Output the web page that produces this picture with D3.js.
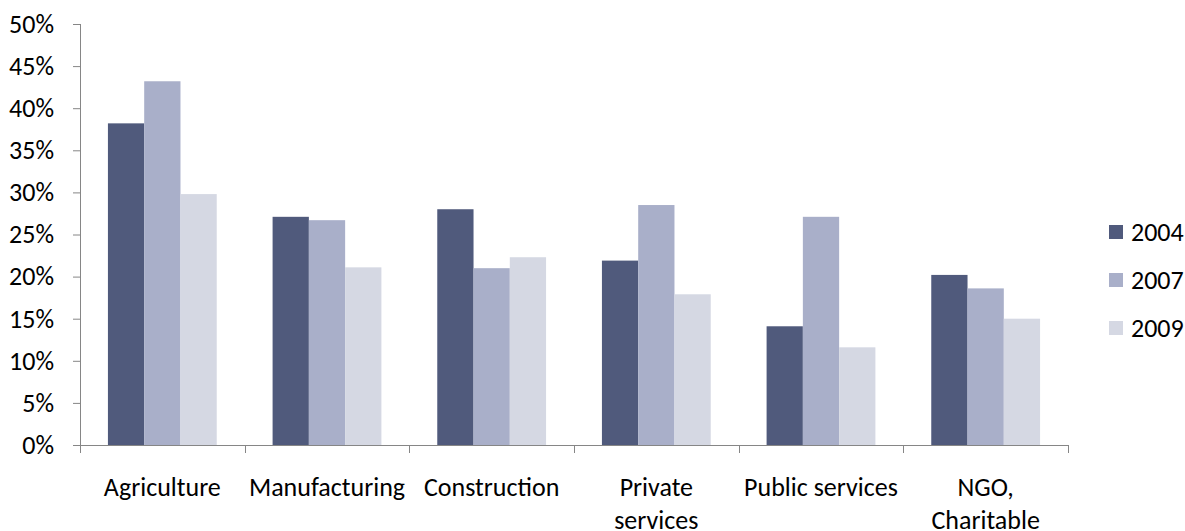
<!DOCTYPE html>
<html lang="en">
<head>
    <meta charset="UTF-8">
    <title>Employment by sector</title>
    <style>
        body { margin: 0; background: #fff; }
        svg text { font-family: Carlito, Lato, "Liberation Sans", sans-serif; fill: #000; }
    </style>
</head>
<body>
<script src="https://d3js.org/d3.v7.min.js"></script>

<div id="my_data"></div>

<script type="text/javascript">

    // data
    var categories = ["Agriculture", "Manufacturing", "Construction", "Private services", "Public services", "NGO, Charitable"];
    var tickLines = [["Agriculture"], ["Manufacturing"], ["Construction"], ["Private", "services"], ["Public services"], ["NGO,", "Charitable"]];
    var years = ["2004", "2007", "2009"];
    var values2004 = [0.382, 0.271, 0.280, 0.219, 0.141, 0.202];
    var values2007 = [0.432, 0.267, 0.210, 0.285, 0.271, 0.186];
    var values2009 = [0.298, 0.211, 0.223, 0.179, 0.116, 0.150];
    var yTicks = [0, 0.05, 0.10, 0.15, 0.20, 0.25, 0.30, 0.35, 0.40, 0.45, 0.50];
    var colors = ["#505a7c", "#a9afc9", "#d5d8e3"];

    var seriesValues = [values2004, values2007, values2009];

    var margin = { top: 24, right: 117, bottom: 86, left: 80 },
        width = 1185 - margin.left - margin.right,
        height = 531 - margin.top - margin.bottom;

    var svg = d3
        .select("#my_data")
        .append("svg")
        .attr("width", 1185)
        .attr("height", 531)
        .append("g")
        .attr("transform", "translate(" + margin.left + "," + margin.top + ")");

    var x0 = d3.scaleBand().domain(categories).range([0, width]).padding(0);
    var x1 = d3.scaleBand().domain(years).range([0, x0.bandwidth()]).paddingInner(0).paddingOuter(0.77);
    var y = d3.scaleLinear().domain([0, 0.5]).range([height, 0]);

    // bars
    var rows = categories.map(function(c, i) {
        return { cat: c, vals: years.map(function(yr, j) { return { year: yr, v: seriesValues[j][i], k: j }; }) };
    });

    svg.selectAll(".grp")
        .data(rows)
        .enter()
        .append("g")
        .attr("transform", function(d) { return "translate(" + x0(d.cat) + ",0)"; })
        .selectAll("rect")
        .data(function(d) { return d.vals; })
        .enter()
        .append("rect")
        .attr("x", function(d) { return x1(d.year); })
        .attr("y", function(d) { return y(d.v); })
        .attr("width", x1.bandwidth())
        .attr("height", function(d) { return height - y(d.v); })
        .style("fill", function(d) { return colors[d.k]; });

    // y axis
    var yAxis = svg.append("g")
        .call(d3.axisLeft(y).tickValues(yTicks).tickFormat(d3.format(".0%")).tickSize(7).tickPadding(19));
    yAxis.selectAll("line").attr("stroke", "#868686");
    yAxis.select(".domain").attr("stroke", "#868686").attr("d", "M0.5," + (height + 8) + "V0");
    yAxis.selectAll("text").style("font-size", "26px");

    // x axis
    var xAxis = svg.append("g").attr("transform", "translate(0," + height + ")");
    xAxis.append("line")
        .attr("x1", -7).attr("x2", width)
        .attr("y1", 0.5).attr("y2", 0.5)
        .attr("stroke", "#868686");
    var bounds = categories.map(function(c) { return x0(c); }).concat([width]);
    xAxis.selectAll(".tk")
        .data(bounds)
        .enter()
        .append("line")
        .attr("x1", function(d) { return Math.round(d) + 0.5; })
        .attr("x2", function(d) { return Math.round(d) + 0.5; })
        .attr("y1", 0).attr("y2", 8)
        .attr("stroke", "#868686");

    var lab = xAxis.selectAll(".lab")
        .data(categories)
        .enter()
        .append("text")
        .attr("text-anchor", "middle")
        .attr("x", function(d) { return x0(d) + x0.bandwidth() / 2; })
        .style("font-size", "26px");
    lab.selectAll("tspan")
        .data(function(d, i) { return tickLines[i]; })
        .enter()
        .append("tspan")
        .attr("x", function() { return d3.select(this.parentNode).attr("x"); })
        .attr("y", function(d, i) { return 51 + i * 33; })
        .text(function(d) { return d; });

    // legend
    var legend = svg.append("g").attr("transform", "translate(" + (width + 41) + ",0)");
    var lg = legend.selectAll(".lg")
        .data(years)
        .enter()
        .append("g")
        .attr("transform", function(d, i) { return "translate(0," + (208 + i * 48) + ")"; });
    lg.append("rect")
        .attr("x", 0).attr("y", -7)
        .attr("width", 14).attr("height", 14)
        .style("fill", function(d, i) { return colors[i]; });
    lg.append("text")
        .attr("x", 22)
        .attr("y", 0)
        .attr("dy", "0.35em")
        .style("font-size", "26px")
        .text(function(d) { return d; });

</script>
</body>
</html>
